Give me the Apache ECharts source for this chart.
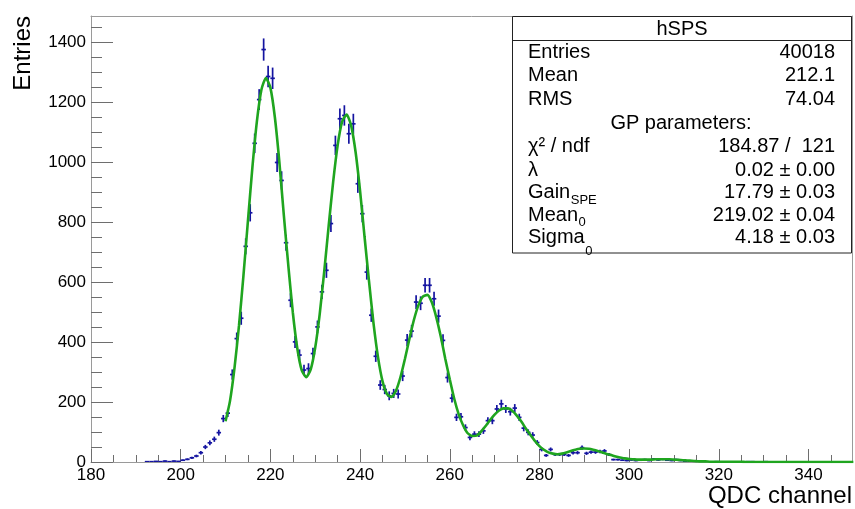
<!DOCTYPE html>
<html>
<head>
<meta charset="utf-8">
<title>hSPS</title>
<style>
    html, body { margin: 0; padding: 0; background: #fff; }
    #container { width: 855px; height: 509px; }
</style>
<script src="https://cdn.jsdelivr.net/npm/echarts@6.0.0/dist/echarts.min.js"></script>
</head>
<body>
<div id="container"></div>
<script>
// histogram hSPS, bin width 1, first bin centre at 192.5
var firstBin = 192.5;
var counts = [
    1, 1, 2, 1, 3, 1, 3, 2, 6, 9,
    14, 20, 31, 50, 64, 76, 98, 145, 163, 292,
    412, 480, 720, 832, 1064, 1210, 1377, 1287, 1281, 1000,
    940, 732, 540, 401, 357, 307, 312, 362, 451, 568,
    640, 796, 1057, 1146, 1157, 1096, 1129, 929, 829, 634,
    490, 353, 257, 242, 221, 229, 227, 287, 407, 437,
    534, 530, 590, 590, 545, 487, 406, 282, 213, 149,
    151, 115, 82, 93, 93, 104, 138, 138, 177, 194,
    177, 168, 180, 149, 113, 99, 90, 65, 42, 22,
    42, 25, 25, 25, 22, 31, 31, 48, 29, 33,
    33, 35, 37, 25, 8, 8, 6, 5, 7, 5,
    6, 8, 5, 10, 7, 9, 6, 5, 8, 5,
    3, 2, 1, 0, 1, 0, 0, 1, 0, 0,
    0, 0, 0, 0, 1, 1, 0, 0, 1
];

// GP fit curve, one value per channel starting at 210
var fitFrom = 210;
var fitY = [
    136, 204, 314, 455, 623, 806, 985, 1138, 1243, 1282,
    1250, 1151, 1002, 824, 656, 500, 380, 306, 283, 309,
    382, 494, 635, 788, 935, 1057, 1136, 1160, 1124, 1035,
    905, 752, 603, 463, 350, 270, 227, 217, 238, 283,
    344, 411, 474, 523, 552, 558, 533, 483, 419, 345,
    276, 211, 159, 122, 96, 87, 88, 102, 120, 140,
    158, 172, 179, 179, 170, 154, 134, 111, 90, 70,
    53, 41, 32, 28, 26, 28, 32, 37, 41, 44,
    45, 44, 41, 37, 32, 27, 23, 18, 15, 12,
    10, 9, 8, 8, 8, 8, 9, 9, 9, 9,
    8, 7, 6, 5, 4, 3, 2, 2, 1, 1,
    1, 1, 1, 1, 1, 1, 0, 0, 0, 0,
    0, 0, 0, 0, 0, 0, 0, 0, 0, 0,
    0, 0, 0, 0, 0, 0, 0, 0, 0, 0,
    0
];

var xTicks = [180, 200, 220, 240, 260, 280, 300, 320, 340];
var yTicks = [0, 200, 400, 600, 800, 1000, 1200, 1400];

var statNames = ['Entries', 'Mean', 'RMS'];
var statValues = ['40018', '212.1', '74.04'];
var parNames = ['χ² / ndf', 'λ', 'Gain', 'Mean', 'Sigma'];
var parSubs = ['', '', 'SPE', '0', '0'];
var parValues = ['184.87 /  121', '0.02 ± 0.00', '17.79 ± 0.03', '219.02 ± 0.04', '4.18 ± 0.03'];

var FONT = '"Liberation Sans", Arial, Helvetica, sans-serif';
var blue = '#1414a0';
var green = '#1fa51f';

function minorTicks(major, step, last) {
    var out = [];
    for (var v = major[0] + step; v <= last; v += step) {
        if (major.indexOf(v) < 0) out.push(v);
    }
    return out;
}

function plain(v) {
    return String(v);
}

function textWidth(str, size) {
    var ctx = document.createElement('canvas').getContext('2d');
    ctx.font = size + 'px ' + FONT;
    return ctx.measureText(str).width;
}

function statsBox() {
    var left = 512.5, right = 851.5, top = 16.5, bottom = 253;
    var xl = 528, xr = 835, xc = (left + right) / 2;
    var els = [];
    els.push({type: 'rect', shape: {x: left, y: top, width: right - left, height: bottom - top},
        style: {fill: '#fff', stroke: '#222', lineWidth: 1}, z: 100});
    els.push({type: 'line', shape: {x1: left, y1: 40.5, x2: right, y2: 40.5},
        style: {stroke: '#222', lineWidth: 1}, z: 101});
    function txt(s, x, y, align, size) {
        els.push({type: 'text', x: x, y: y, z: 102,
            style: {text: s, fill: '#000', font: size + 'px ' + FONT, align: align, verticalAlign: 'middle'}});
    }
    txt('hSPS', xc, 29, 'center', 20);
    var rowY = [52, 75.5, 99, 123.5, 146.5, 170, 192.5, 215, 237.5];
    for (var i = 0; i < statNames.length; i++) {
        txt(statNames[i], xl, rowY[i], 'left', 20);
        txt(statValues[i], xr, rowY[i], 'right', 20);
    }
    txt('GP parameters:', xc - 1, rowY[3], 'center', 20);
    var subDy = [0, 0, 7.5, 7, 14];
    for (var j = 0; j < parNames.length; j++) {
        var y = rowY[4 + j];
        txt(parNames[j], xl, y, 'left', 20);
        if (parSubs[j]) {
            txt(parSubs[j], xl + textWidth(parNames[j], 20) + 0.5, y + subDy[j], 'left', 13);
        }
        txt(parValues[j], xr, y, 'right', 20);
    }
    return els;
}

var histData = [];
for (var i = 0; i < counts.length; i++) {
    if (counts[i] > 0) histData.push([firstBin + i, counts[i]]);
}
var fitData = [];
for (var k = 0; k < fitY.length; k++) {
    fitData.push([fitFrom + k, fitY[k]]);
}

var xMax = 349.7, yMax = 1489;
var lineGray = {color: '#9a9a9a', width: 1};
var tickGray = {color: '#6e6e6e', width: 1};

var chart = echarts.init(document.getElementById('container'));
var option = {
    animation: false,
    backgroundColor: '#fff',
    grid: {left: 91, right: 3, top: 16, bottom: 47},
    xAxis: [
        {
            type: 'value', min: 180, max: xMax, position: 'bottom',
            axisLine: {show: true, onZero: false, lineStyle: lineGray},
            axisTick: {show: true, inside: true, length: 13, customValues: xTicks, lineStyle: tickGray},
            axisLabel: {customValues: xTicks, formatter: plain, fontSize: 17, fontFamily: FONT, color: '#000', margin: 5},
            splitLine: {show: false}
        },
        {
            type: 'value', min: 180, max: xMax, position: 'bottom',
            axisLine: {show: false},
            axisTick: {show: true, inside: true, length: 7, customValues: minorTicks(xTicks, 5, 345), lineStyle: tickGray},
            axisLabel: {show: false},
            splitLine: {show: false}
        },
        {
            type: 'value', min: 180, max: xMax, position: 'top',
            axisLine: {show: true, onZero: false, lineStyle: lineGray},
            axisTick: {show: false}, axisLabel: {show: false}, splitLine: {show: false}
        }
    ],
    yAxis: [
        {
            type: 'value', min: 0, max: yMax, position: 'left',
            axisLine: {show: true, onZero: false, lineStyle: lineGray},
            axisTick: {show: true, inside: true, length: 22, customValues: yTicks, lineStyle: tickGray},
            axisLabel: {customValues: yTicks, formatter: plain, fontSize: 17, fontFamily: FONT, color: '#000', margin: 5},
            splitLine: {show: false}
        },
        {
            type: 'value', min: 0, max: yMax, position: 'left',
            axisLine: {show: false},
            axisTick: {show: true, inside: true, length: 11, customValues: minorTicks(yTicks, 50, 1450), lineStyle: tickGray},
            axisLabel: {show: false},
            splitLine: {show: false}
        },
        {
            type: 'value', min: 0, max: yMax, position: 'right',
            axisLine: {show: true, onZero: false, lineStyle: lineGray},
            axisTick: {show: false}, axisLabel: {show: false}, splitLine: {show: false}
        }
    ],
    series: [
        {
            type: 'custom',
            xAxisIndex: 0,
            yAxisIndex: 0,
            data: histData,
            encode: {x: 0, y: 1},
            clip: true,
            z: 2,
            renderItem: function (params, api) {
                var x = api.value(0), y = api.value(1);
                var err = Math.sqrt(y); // poisson error of the bin
                var c = api.coord([x, y]);
                var l = api.coord([x - 0.5, y]);
                var r = api.coord([x + 0.5, y]);
                var t = api.coord([x, y + err]);
                var b = api.coord([x, y - err]);
                var st = {stroke: blue, lineWidth: 1.7};
                return {
                    type: 'group',
                    children: [
                        {type: 'line', shape: {x1: l[0], y1: c[1], x2: r[0], y2: c[1]}, style: st},
                        {type: 'line', shape: {x1: c[0], y1: t[1], x2: c[0], y2: b[1]}, style: st}
                    ]
                };
            }
        },
        {
            type: 'line',
            xAxisIndex: 0,
            yAxisIndex: 0,
            data: fitData,
            showSymbol: false,
            smooth: 0.2,
            clip: true,
            z: 3,
            lineStyle: {color: green, width: 2.6}
        }
    ],
    graphic: [
        {type: 'text', x: 23, y: 16, rotation: Math.PI / 2, z: 10,
            style: {text: 'Entries', fill: '#000', font: '24px ' + FONT, align: 'right', verticalAlign: 'middle'}},
        {type: 'text', x: 852, y: 496, z: 10,
            style: {text: 'QDC channel', fill: '#000', font: '24px ' + FONT, align: 'right', verticalAlign: 'middle'}}
    ].concat(statsBox())
};
chart.setOption(option);
</script>
</body>
</html>
